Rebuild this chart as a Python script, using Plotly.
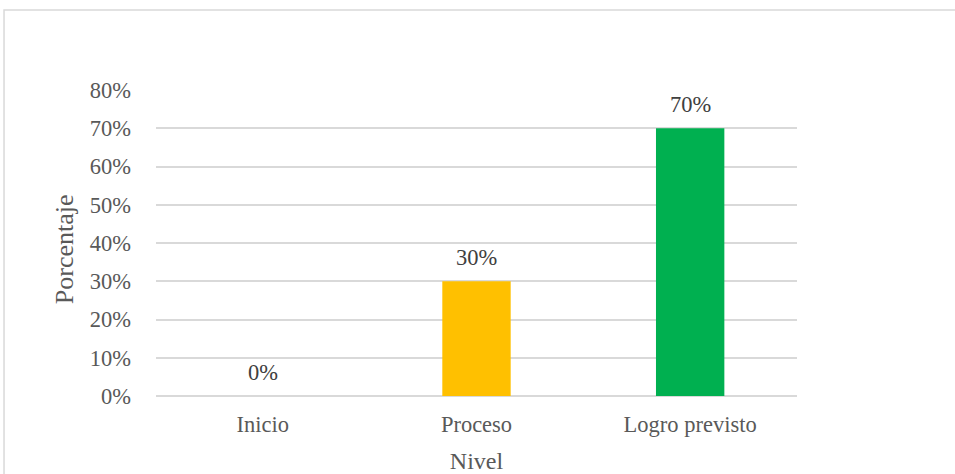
import plotly.graph_objects as go

# Distribución por nivel de logro
niveles = ["Inicio", "Proceso", "Logro previsto"]
porcentajes = [0.0, 0.30, 0.70]
colores = ["#4472C4", "#FFC000", "#00B050"]
ticks_y = [0, 0.1, 0.2, 0.3, 0.4, 0.5, 0.6, 0.7, 0.8]

font_family = "Liberation Serif, Times New Roman, serif"
gris = "#595959"

fig = go.Figure(
    go.Bar(
        x=niveles,
        y=porcentajes,
        marker=dict(color=colores, line=dict(width=0)),
        width=0.32,
        hoverinfo="x+y",
    )
)

# Etiquetas de valor sobre cada barra
for nivel, valor in zip(niveles, porcentajes):
    fig.add_annotation(
        x=nivel,
        y=valor,
        text=f"{valor:.0%}",
        showarrow=False,
        yanchor="middle",
        yshift=24,
        font=dict(family=font_family, size=22.5, color="#404040"),
    )

# Título del eje vertical
fig.add_annotation(
    text="Porcentaje",
    xref="paper",
    yref="paper",
    x=-0.1435,
    y=0.48,
    xanchor="center",
    yanchor="middle",
    textangle=-90,
    showarrow=False,
    font=dict(family=font_family, size=26, color=gris),
)

fig.update_layout(
    width=955,
    height=474,
    margin=dict(l=156, r=158, t=90, b=78, autoexpand=False),
    paper_bgcolor="white",
    plot_bgcolor="white",
    showlegend=False,
    font=dict(family=font_family, size=22.5, color=gris),
    xaxis=dict(
        title=dict(text="Nivel", font=dict(size=24, color=gris), standoff=16),
        automargin=False,
        showgrid=False,
        showline=False,
        ticks="",
        ticklabelstandoff=12,
        tickfont=dict(size=22.5, color=gris),
    ),
    yaxis=dict(
        automargin=False,
        range=[0, 0.8],
        tickvals=ticks_y,
        tickformat=".0%",
        showgrid=True,
        gridcolor="#d9d9d9",
        gridwidth=1.5,
        zeroline=True,
        zerolinecolor="#d9d9d9",
        zerolinewidth=1.5,
        showline=False,
        ticks="",
        ticklabelstandoff=24,
        tickfont=dict(size=22.5, color=gris),
    ),
    shapes=[
        dict(
            type="rect",
            xref="paper",
            yref="paper",
            x0=-0.2371,
            x1=1.35,
            y0=-0.35,
            y1=1.2614,
            line=dict(color="#d9d9d9", width=1.5),
            fillcolor="rgba(0,0,0,0)",
            layer="below",
        )
    ],
)

fig.write_html("out.html")
